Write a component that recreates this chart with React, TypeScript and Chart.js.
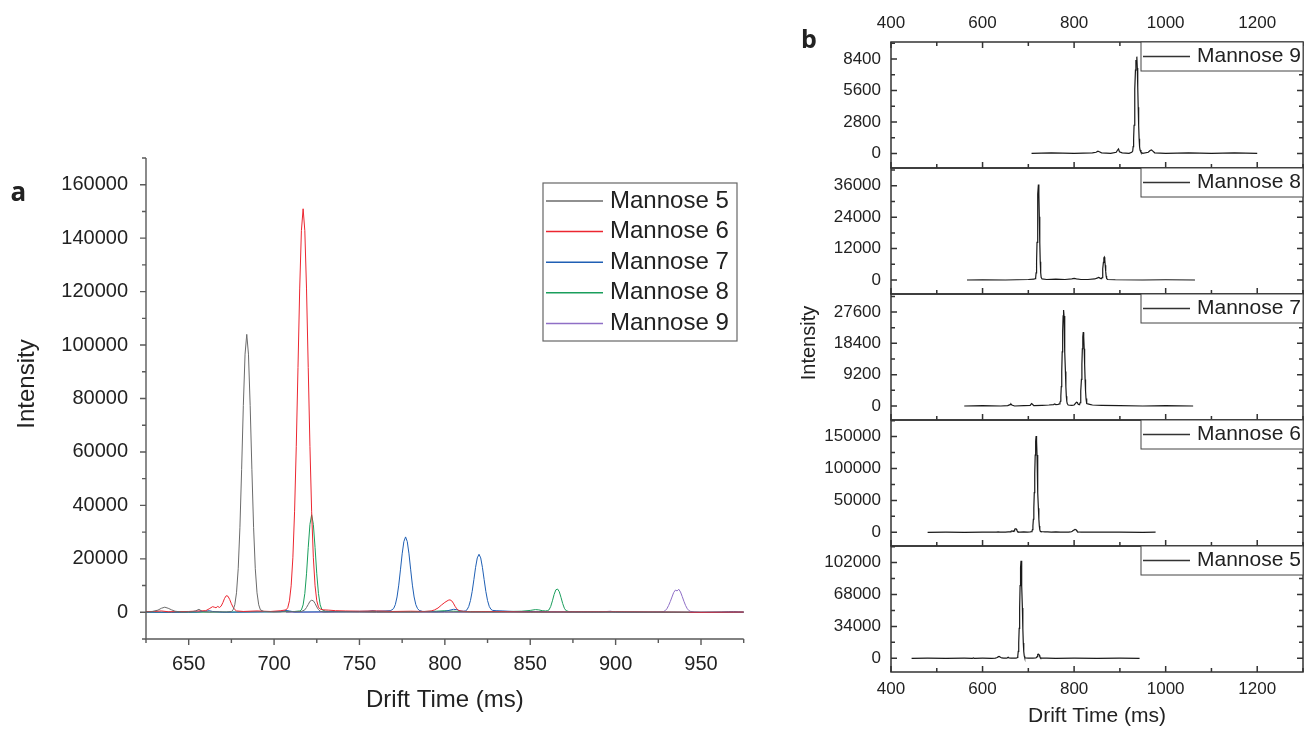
import React, { useEffect, useRef } from 'react';
import { Chart, registerables } from 'chart.js';

Chart.register(...registerables);

const FONT = "'Liberation Sans', Arial, Helvetica, sans-serif";
const TEXT = '#222222';

// ---------------- data (drift time in ms, intensity) ----------------
const m5Time = [445, 480, 520, 560, 578, 580, 582, 600, 620, 628, 632, 634, 636, 638, 640, 642, 646, 652, 654, 656, 658, 662, 668, 672, 675,
  676, 677, 678, 679, 680, 681, 682, 683, 684, 685, 686, 687, 688, 689, 690, 691, 692, 694, 700, 710, 716,
  718, 719, 720, 721, 722, 723, 724, 725, 726, 727, 729, 740, 760, 800, 850, 900, 943];
const m5Int = [0, 150, 0, 100, 0, 350, 0, 100, 0, 200, 800, 1500, 1900, 1500, 900, 400, 100, 200, 500, 1100, 300, 100, 200, 100, 300,
  900, 2800, 7300, 16300, 31800, 53500, 77400, 96600, 104000, 96600, 77400, 53500, 31800, 16300, 7300, 2800, 900, 300, 100, 200, 300,
  900, 1800, 2900, 4100, 4500, 4300, 3300, 2000, 1000, 400, 100, 200, 0, 150, 0, 100, 0];

const m6Time = [480, 520, 560, 600, 630, 634, 638, 650, 656, 660, 662, 664, 665, 666, 667, 668, 669, 670, 671, 672, 673, 674, 675, 676, 677, 678,
  682, 690, 698, 704, 707, 708, 709, 710, 711, 712, 713, 714, 715, 716, 717, 718, 719, 720, 721, 722, 723, 724, 725, 726, 727, 729,
  732, 736, 742, 750, 760, 770, 780, 788, 792, 794, 796, 798, 800, 802, 803, 804, 805, 806, 807, 808, 810, 815, 830, 850, 900, 950, 978];
const m6Int = [0, 150, 0, 200, 300, 500, 200, 300, 500, 600, 1300, 2100, 1900, 1700, 2200, 1800, 2300, 3600, 5200, 6200, 6000, 4800, 3200, 1900, 1000, 500,
  300, 500, 300, 600, 900, 1700, 4300, 9900, 20400, 37600, 62100, 91600, 121000, 142800, 151000, 142800, 121000, 91600, 62100, 37600, 20400, 9900, 4300, 1900, 1200, 900,
  800, 600, 500, 400, 500, 300, 400, 300, 500, 900, 1600, 2700, 3700, 4500, 4650, 4300, 3400, 2200, 1300, 700, 400, 200, 300, 100, 200, 0, 100];

const m7Time = [560, 600, 640, 655, 660, 662, 664, 670, 690, 704, 707, 709, 712, 730, 745, 755, 758, 760, 765, 768,
  769, 770, 771, 772, 773, 774, 775, 776, 777, 778, 779, 780, 781, 782, 783, 784, 785, 787, 795, 800, 803, 805, 807, 809, 811,
  812, 813, 814, 815, 816, 817, 818, 819, 820, 821, 822, 823, 824, 825, 826, 827, 828, 830, 834, 840, 860, 900, 950, 1000, 1060];
const m7Int = [0, 100, 0, 100, 400, 600, 300, 0, 100, 200, 700, 500, 100, 200, 300, 400, 600, 400, 500, 600,
  900, 1400, 2850, 5720, 10150, 15880, 21860, 26450, 28200, 26450, 21860, 15880, 10150, 5720, 2850, 1400, 700, 300, 200, 300, 800, 1100, 1000, 500, 400,
  500, 950, 2190, 4400, 7810, 12220, 16820, 20350, 21700, 20350, 16820, 12220, 7810, 4400, 2190, 1100, 700, 600, 500, 300, 200, 100, 0, 100, 0];

const m8Time = [566, 600, 650, 700, 712, 715, 716, 717, 718, 719, 720, 721, 722, 723, 724, 725, 726, 727, 728, 730, 740, 760, 780,
  795, 800, 805, 815, 830, 845, 850, 853, 855, 857, 859, 860, 861, 862, 863, 864, 865, 866, 867, 868, 869, 870, 871, 873, 890, 950, 1000, 1064];
const m8Int = [0, 100, 0, 200, 300, 500, 890, 2760, 7000, 14400, 24200, 32900, 36500, 32900, 24200, 14400, 7000, 2760, 1000, 400, 200, 300, 200,
  400, 600, 400, 200, 200, 400, 700, 1000, 900, 600, 500, 600, 900, 2200, 4300, 6700, 8400, 8700, 7700, 5600, 3300, 1500, 600, 200, 100, 0, 100, 0];

const m9Time = [707, 750, 800, 840, 848, 852, 855, 860, 880, 892, 895, 897, 899, 905, 920, 926, 928, 929, 930, 931, 932, 933, 934, 935, 936, 937,
  938, 939, 940, 941, 942, 943, 944, 946, 950, 962, 966, 969, 972, 976, 1000, 1050, 1100, 1150, 1200];
const m9Int = [0, 50, 0, 50, 100, 200, 150, 50, 0, 100, 300, 400, 150, 50, 0, 100, 200, 600, 1300, 2500, 4000, 5700, 7400, 8300, 8000, 8600,
  7600, 5900, 4100, 2500, 1300, 600, 300, 100, 0, 100, 250, 300, 200, 50, 0, 50, 0, 50, 0];

const seriesNames = ['Mannose 5', 'Mannose 6', 'Mannose 7', 'Mannose 8', 'Mannose 9'];
const seriesTimes = [m5Time, m6Time, m7Time, m8Time, m9Time];
const seriesInts = [m5Int, m6Int, m7Int, m8Int, m9Int];
const aColors = ['#6b6b6b', '#ec2630', '#1f5fb4', '#1a9e5c', '#8f6fc6'];

// tick labels
const aXTicks = [650, 700, 750, 800, 850, 900, 950];
const aYTicks = [0, 20000, 40000, 60000, 80000, 100000, 120000, 140000, 160000];
const bXTicks = [400, 600, 800, 1000, 1200];
const m9YTicks = [0, 2800, 5600, 8400];
const m8YTicks = [0, 12000, 24000, 36000];
const m7YTicks = [0, 9200, 18400, 27600];
const m6YTicks = [0, 50000, 100000, 150000];
const m5YTicks = [0, 34000, 68000, 102000];

// ---------------- plugins ----------------
function makeFrame(cfg: any) {
  return {
    id: 'frameTicks',
    afterDatasetsDraw(chart: any) {
      const { ctx, chartArea: a, scales } = chart;
      const xs = scales.x;
      const ys = scales.y;
      ctx.save();
      ctx.strokeStyle = cfg.color;
      ctx.lineWidth = cfg.width;
      ctx.lineCap = 'butt';
      ctx.beginPath();
      if (cfg.box) {
        ctx.rect(a.left, a.top, a.right - a.left, a.bottom - a.top);
      } else {
        ctx.moveTo(a.left, a.top);
        ctx.lineTo(a.left, a.bottom);
        ctx.lineTo(a.right, a.bottom);
      }
      ctx.stroke();
      const dir = cfg.inward ? 1 : -1;
      const marks = (scale: any, major: number[], step: number) => {
        const out: number[][] = [];
        const start = Math.ceil((scale.min - 1e-6) / step) * step;
        for (let v = start; v <= scale.max + 1e-6; v += step) {
          const isMajor = major.some((m) => Math.abs(m - v) < step * 1e-3);
          out.push([scale.getPixelForValue(v), isMajor ? cfg.majorLen : cfg.minorLen]);
        }
        return out;
      };
      ctx.beginPath();
      for (const [px, len] of marks(xs, cfg.xMajor, cfg.xMinorStep)) {
        ctx.moveTo(px, a.bottom);
        ctx.lineTo(px, a.bottom - dir * len);
        if (cfg.topTicks) {
          ctx.moveTo(px, a.top);
          ctx.lineTo(px, a.top + len);
        }
      }
      for (const [py, len] of marks(ys, cfg.yMajor, cfg.yMinorStep)) {
        ctx.moveTo(a.left, py);
        ctx.lineTo(a.left + dir * len, py);
        if (cfg.rightTicks) {
          ctx.moveTo(a.right, py);
          ctx.lineTo(a.right - len, py);
        }
      }
      ctx.stroke();
      ctx.restore();
    },
  };
}

function makeLegend(cfg: any) {
  return {
    id: 'boxLegend',
    afterDraw(chart: any) {
      const { ctx, chartArea: a } = chart;
      const x0 = a.left + cfg.x;
      const y0 = a.top + cfg.y;
      const w = cfg.w == null ? a.right - x0 : cfg.w;
      ctx.save();
      ctx.fillStyle = '#ffffff';
      ctx.fillRect(x0, y0, w, cfg.h);
      ctx.strokeStyle = cfg.borderColor;
      ctx.lineWidth = cfg.borderWidth;
      ctx.strokeRect(x0, y0, w, cfg.h);
      chart.data.datasets.forEach((ds: any, i: number) => {
        const y = y0 + cfg.firstRow + i * cfg.rowH;
        ctx.strokeStyle = cfg.lineColor || ds.borderColor;
        ctx.lineWidth = cfg.lineWidth;
        ctx.beginPath();
        ctx.moveTo(x0 + cfg.lineStart, y);
        ctx.lineTo(x0 + cfg.lineEnd, y);
        ctx.stroke();
        ctx.fillStyle = TEXT;
        ctx.font = `${cfg.fontSize}px ${FONT}`;
        ctx.textBaseline = 'middle';
        ctx.textAlign = 'left';
        ctx.fillText(ds.label, x0 + cfg.textX, y);
      });
      ctx.restore();
    },
  };
}

const fmt = (v: any) => String(v);
const fitY = (w: number) => (s: any) => { s.width = w; s.paddingTop = 0; s.paddingBottom = 0; };
const fitX = (h: number) => (s: any) => { s.height = h; s.paddingLeft = 0; s.paddingRight = 0; };

// ---------------- panel a ----------------
function buildPanelA() {
  return {
    type: 'line',
    data: {
      datasets: seriesTimes.map((t, i) => ({
        label: seriesNames[i],
        data: t.map((x, j) => ({ x, y: seriesInts[i][j] })),
        borderColor: aColors[i],
        borderWidth: 1,
        pointRadius: 0,
        pointHoverRadius: 0,
        tension: 0,
        fill: false,
      })),
    },
    options: {
      responsive: false,
      animation: false,
      events: [],
      layout: { padding: { left: 0, top: 158, right: 26.3, bottom: 14.6 } },
      scales: {
        x: {
          type: 'linear',
          min: 625,
          max: 975,
          afterFit: fitX(75.4),
          afterBuildTicks: (s: any) => { s.ticks = aXTicks.map((v) => ({ value: v })); },
          grid: { display: false, drawTicks: false },
          border: { display: false },
          ticks: { font: { family: FONT, size: 20 }, color: TEXT, padding: 13, maxRotation: 0, minRotation: 0, autoSkip: false, callback: fmt },
          title: { display: true, text: 'Drift Time (ms)', font: { family: FONT, size: 24 }, color: TEXT, padding: 0 },
        },
        y: {
          type: 'linear',
          min: -10000,
          max: 170000,
          afterFit: fitY(146),
          afterBuildTicks: (s: any) => { s.ticks = aYTicks.map((v) => ({ value: v })); },
          grid: { display: false, drawTicks: false },
          border: { display: false },
          ticks: { font: { family: FONT, size: 20 }, color: TEXT, padding: 18, autoSkip: false, callback: fmt },
        },
      },
      plugins: { legend: { display: false }, tooltip: { enabled: false } },
    },
    plugins: [
      makeFrame({ color: '#5a5a5a', width: 1.4, box: false, inward: false, majorLen: 6, minorLen: 4,
        xMajor: aXTicks, xMinorStep: 25, yMajor: aYTicks, yMinorStep: 10000 }),
      makeLegend({ x: 397, y: 25, w: 194, h: 158, firstRow: 18, rowH: 30.6, lineStart: 3, lineEnd: 60, textX: 67,
        fontSize: 24, lineWidth: 1.5, borderColor: '#666666', borderWidth: 1.2 }),
    ],
  };
}

// ---------------- panel b ----------------
const bPanels = [
  { idx: 4, role: 'top', top: 0, height: 171, yMin: -1300, yMax: 9900, yTicks: m9YTicks, yMinor: 1400 },
  { idx: 3, role: 'mid', top: 165, height: 132, yMin: -5350, yMax: 42800, yTicks: m8YTicks, yMinor: 6000 },
  { idx: 2, role: 'mid', top: 291, height: 132, yMin: -4110, yMax: 32900, yTicks: m7YTicks, yMinor: 4600 },
  { idx: 1, role: 'mid', top: 417, height: 132, yMin: -21500, yMax: 176000, yTicks: m6YTicks, yMinor: 25000 },
  { idx: 0, role: 'bottom', top: 543, height: 186, yMin: -14600, yMax: 119700, yTicks: m5YTicks, yMinor: 17000 },
];

function buildPanelB(p: any) {
  const i = p.idx;
  const xScale: any = {
    type: 'linear',
    min: 400,
    max: 1300,
    grid: { display: false, drawTicks: false },
    border: { display: false },
    afterBuildTicks: (s: any) => { s.ticks = bXTicks.map((v) => ({ value: v })); },
    ticks: { font: { family: FONT, size: 17 }, color: TEXT, padding: 8, maxRotation: 0, minRotation: 0, autoSkip: false, callback: fmt },
  };
  if (p.role === 'top') {
    xScale.position = 'top';
    xScale.afterFit = fitX(42);
  } else if (p.role === 'bottom') {
    xScale.position = 'bottom';
    xScale.afterFit = fitX(57);
    xScale.ticks.padding = 7.3;
    xScale.title = { display: true, text: 'Drift Time (ms)', font: { family: FONT, size: 21 }, color: TEXT, padding: 0 };
  } else {
    xScale.display = false;
  }
  return {
    type: 'line',
    data: {
      datasets: [{
        label: seriesNames[i],
        data: seriesTimes[i].map((x, j) => ({ x, y: seriesInts[i][j] })),
        borderColor: '#1a1a1a',
        borderWidth: 1.2,
        pointRadius: 0,
        pointHoverRadius: 0,
        tension: 0,
        fill: false,
      }],
    },
    options: {
      responsive: false,
      animation: false,
      events: [],
      layout: { padding: { left: 0, right: 1, top: p.role === 'top' ? 0 : 3, bottom: p.role === 'bottom' ? 0 : 3 } },
      scales: {
        x: xScale,
        y: {
          type: 'linear',
          min: p.yMin,
          max: p.yMax,
          afterFit: fitY(80),
          afterBuildTicks: (s: any) => { s.ticks = p.yTicks.map((v: number) => ({ value: v })); },
          grid: { display: false, drawTicks: false },
          border: { display: false },
          ticks: { font: { family: FONT, size: 17 }, color: TEXT, padding: 10, autoSkip: false, callback: fmt },
        },
      },
      plugins: { legend: { display: false }, tooltip: { enabled: false } },
    },
    plugins: [
      makeFrame({ color: '#333333', width: 1.5, box: true, inward: true, majorLen: 6, minorLen: 4,
        xMajor: bXTicks, xMinorStep: 100, yMajor: p.yTicks, yMinorStep: p.yMinor,
        topTicks: p.role === 'top', rightTicks: true }),
      makeLegend({ x: 250, y: 0, w: null, h: 29, firstRow: 14.5, rowH: 0, lineStart: 2, lineEnd: 49, textX: 56,
        fontSize: 21, lineWidth: 1.3, lineColor: '#333333', borderColor: '#444444', borderWidth: 1 }),
    ],
  };
}

// ---------------- components ----------------
function ChartCanvas(props: { left: number; top: number; width: number; height: number; build: () => any }) {
  const ref = useRef<HTMLCanvasElement | null>(null);
  useEffect(() => {
    if (!ref.current) return;
    const chart = new Chart(ref.current, props.build());
    return () => chart.destroy();
  }, []);
  return (
    <canvas
      ref={ref}
      width={props.width}
      height={props.height}
      style={{ position: 'absolute', left: props.left, top: props.top, width: props.width, height: props.height, display: 'block' }}
    />
  );
}

export default function App() {
  return (
    <div style={{ position: 'absolute', left: 0, top: 0, width: 1304, height: 729, overflow: 'hidden', background: '#ffffff', fontFamily: FONT, color: TEXT }}>
      <ChartCanvas left={0} top={0} width={770} height={729} build={buildPanelA} />
      {bPanels.map((p) => (
        <ChartCanvas key={p.idx} left={811} top={p.top} width={493} height={p.height} build={() => buildPanelB(p)} />
      ))}
      <div style={{ position: 'absolute', left: 26, top: 384, transform: 'translate(-50%, -50%) rotate(-90deg)', fontSize: 24, lineHeight: '24px', whiteSpace: 'nowrap' }}>Intensity</div>
      <div style={{ position: 'absolute', left: 807.5, top: 343, transform: 'translate(-50%, -50%) rotate(-90deg)', fontSize: 20, lineHeight: '20px', whiteSpace: 'nowrap' }}>Intensity</div>
      <div style={{ position: 'absolute', left: 10.5, top: 178, fontFamily: "'Open Sans', sans-serif", fontWeight: 700, fontSize: 26, lineHeight: '26px' }}>a</div>
      <div style={{ position: 'absolute', left: 801, top: 26, fontFamily: "'Open Sans', sans-serif", fontWeight: 700, fontSize: 25, lineHeight: '25px' }}>b</div>
    </div>
  );
}
